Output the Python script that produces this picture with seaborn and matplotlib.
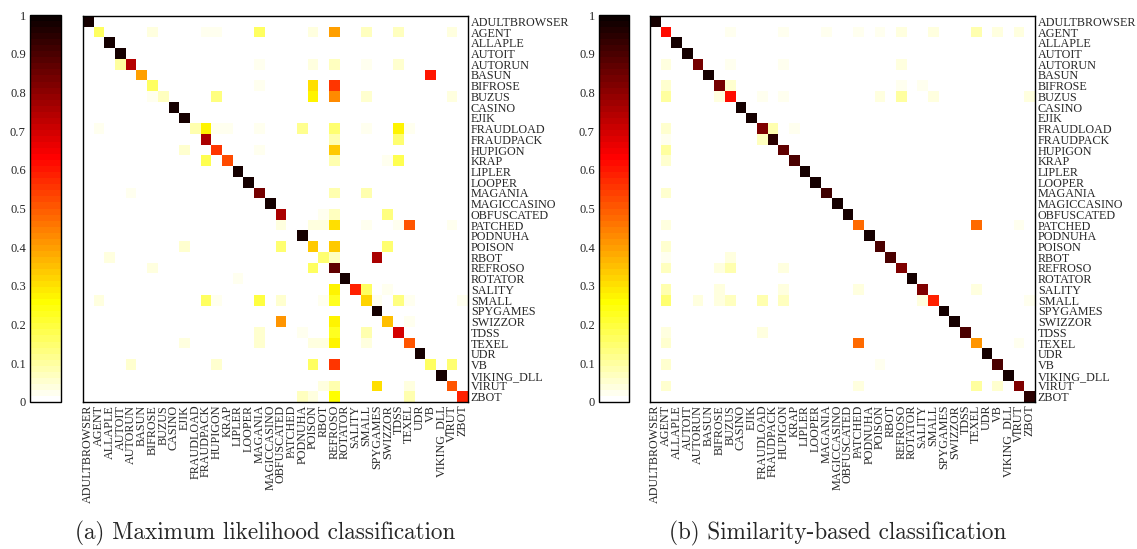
import numpy as np
import pandas as pd
import matplotlib
matplotlib.use("Agg")
import matplotlib.pyplot as plt
import seaborn as sns

categories = ["ADULTBROWSER", "AGENT", "ALLAPLE", "AUTOIT", "AUTORUN", "BASUN",
              "BIFROSE", "BUZUS", "CASINO", "EJIK", "FRAUDLOAD", "FRAUDPACK",
              "HUPIGON", "KRAP", "LIPLER", "LOOPER", "MAGANIA", "MAGICCASINO",
              "OBFUSCATED", "PATCHED", "PODNUHA", "POISON", "RBOT", "REFROSO",
              "ROTATOR", "SALITY", "SMALL", "SPYGAMES", "SWIZZOR", "TDSS",
              "TEXEL", "UDR", "VB", "VIKING_DLL", "VIRUT", "ZBOT"]

# (a) Maximum likelihood classification
ml_diagonal = [0.98, 0.16, 0.98, 0.98, 0.74, 0.40, 0.17, 0.07, 0.98, 0.98,
               0.08, 0.76, 0.55, 0.52, 0.98, 0.98, 0.83, 0.98, 0.76, 0.0,
               0.98, 0.34, 0.15, 0.86, 0.98, 0.59, 0.32, 0.98, 0.35, 0.70,
               0.50, 0.98, 0.16, 0.98, 0.50, 0.59]
ml_confusions = [
    ("AGENT", "BIFROSE", 0.04), ("AGENT", "FRAUDPACK", 0.03), ("AGENT", "HUPIGON", 0.03),
    ("AGENT", "MAGANIA", 0.17), ("AGENT", "POISON", 0.04), ("AGENT", "REFROSO", 0.40),
    ("AGENT", "SMALL", 0.07), ("AGENT", "TDSS", 0.07), ("AGENT", "VIRUT", 0.04),
    ("AUTORUN", "AUTOIT", 0.10), ("AUTORUN", "MAGANIA", 0.03), ("AUTORUN", "POISON", 0.04),
    ("AUTORUN", "REFROSO", 0.07), ("AUTORUN", "SMALL", 0.03), ("AUTORUN", "TDSS", 0.06),
    ("BASUN", "VB", 0.60),
    ("BIFROSE", "MAGANIA", 0.03), ("BIFROSE", "POISON", 0.31), ("BIFROSE", "REFROSO", 0.55),
    ("BUZUS", "BIFROSE", 0.03), ("BUZUS", "HUPIGON", 0.13), ("BUZUS", "POISON", 0.28),
    ("BUZUS", "REFROSO", 0.43), ("BUZUS", "SMALL", 0.05), ("BUZUS", "VIRUT", 0.04),
    ("FRAUDLOAD", "AGENT", 0.03), ("FRAUDLOAD", "FRAUDPACK", 0.27), ("FRAUDLOAD", "HUPIGON", 0.03),
    ("FRAUDLOAD", "KRAP", 0.03), ("FRAUDLOAD", "MAGANIA", 0.03), ("FRAUDLOAD", "PODNUHA", 0.12),
    ("FRAUDLOAD", "REFROSO", 0.15), ("FRAUDLOAD", "SMALL", 0.03), ("FRAUDLOAD", "TDSS", 0.27),
    ("FRAUDLOAD", "TEXEL", 0.03),
    ("FRAUDPACK", "REFROSO", 0.08), ("FRAUDPACK", "TDSS", 0.15),
    ("HUPIGON", "EJIK", 0.05), ("HUPIGON", "MAGANIA", 0.03), ("HUPIGON", "REFROSO", 0.33),
    ("KRAP", "FRAUDPACK", 0.18), ("KRAP", "REFROSO", 0.08), ("KRAP", "SWIZZOR", 0.03),
    ("KRAP", "TDSS", 0.18),
    ("MAGANIA", "AUTORUN", 0.03), ("MAGANIA", "REFROSO", 0.08), ("MAGANIA", "SMALL", 0.08),
    ("OBFUSCATED", "RBOT", 0.03), ("OBFUSCATED", "REFROSO", 0.07), ("OBFUSCATED", "SWIZZOR", 0.13),
    ("PATCHED", "OBFUSCATED", 0.04), ("PATCHED", "POISON", 0.04), ("PATCHED", "RBOT", 0.04),
    ("PATCHED", "REFROSO", 0.30), ("PATCHED", "SMALL", 0.03), ("PATCHED", "TDSS", 0.03),
    ("PATCHED", "TEXEL", 0.50), ("PATCHED", "VIRUT", 0.03),
    ("POISON", "EJIK", 0.05), ("POISON", "OBFUSCATED", 0.15), ("POISON", "REFROSO", 0.33),
    ("POISON", "SWIZZOR", 0.15),
    ("RBOT", "ALLAPLE", 0.04), ("RBOT", "REFROSO", 0.07), ("RBOT", "SPYGAMES", 0.76),
    ("REFROSO", "BIFROSE", 0.04), ("REFROSO", "POISON", 0.17),
    ("ROTATOR", "LIPLER", 0.03),
    ("SALITY", "REFROSO", 0.28), ("SALITY", "SMALL", 0.17), ("SALITY", "SWIZZOR", 0.03),
    ("SMALL", "AGENT", 0.04), ("SMALL", "FRAUDPACK", 0.17), ("SMALL", "HUPIGON", 0.03),
    ("SMALL", "MAGANIA", 0.20), ("SMALL", "OBFUSCATED", 0.05), ("SMALL", "RBOT", 0.03),
    ("SMALL", "REFROSO", 0.22), ("SMALL", "SPYGAMES", 0.03), ("SMALL", "TDSS", 0.13),
    ("SMALL", "TEXEL", 0.03), ("SMALL", "ZBOT", 0.03),
    ("SWIZZOR", "OBFUSCATED", 0.42), ("SWIZZOR", "REFROSO", 0.27), ("SWIZZOR", "TEXEL", 0.03),
    ("TDSS", "MAGANIA", 0.05), ("TDSS", "PODNUHA", 0.03), ("TDSS", "REFROSO", 0.23),
    ("TDSS", "SMALL", 0.08),
    ("TEXEL", "EJIK", 0.04), ("TEXEL", "MAGANIA", 0.05), ("TEXEL", "POISON", 0.04),
    ("TEXEL", "RBOT", 0.04), ("TEXEL", "REFROSO", 0.27), ("TEXEL", "SMALL", 0.04),
    ("VB", "AUTORUN", 0.05), ("VB", "HUPIGON", 0.05), ("VB", "POISON", 0.17),
    ("VB", "REFROSO", 0.56), ("VB", "VIRUT", 0.15),
    ("VIRUT", "RBOT", 0.04), ("VIRUT", "REFROSO", 0.08), ("VIRUT", "SPYGAMES", 0.30),
    ("VIRUT", "TEXEL", 0.04),
    ("ZBOT", "PODNUHA", 0.07), ("ZBOT", "POISON", 0.04), ("ZBOT", "REFROSO", 0.25),
    ("ZBOT", "TEXEL", 0.08),
]

# (b) Similarity-based classification
sim_diagonal = [0.98, 0.61, 0.98, 0.98, 0.83, 0.97, 0.83, 0.61, 0.98, 0.98,
                0.82, 0.94, 0.86, 0.90, 0.98, 0.98, 0.92, 0.98, 0.98, 0.47,
                0.98, 0.90, 0.90, 0.82, 0.98, 0.82, 0.58, 0.98, 0.98, 0.90,
                0.42, 0.98, 0.90, 0.98, 0.82, 0.94]
sim_confusions = [
    ("AGENT", "BUZUS", 0.03), ("AGENT", "HUPIGON", 0.03), ("AGENT", "MAGANIA", 0.03),
    ("AGENT", "PATCHED", 0.03), ("AGENT", "POISON", 0.03), ("AGENT", "REFROSO", 0.04),
    ("AGENT", "SMALL", 0.04), ("AGENT", "TEXEL", 0.08), ("AGENT", "VB", 0.04),
    ("AGENT", "VIRUT", 0.04),
    ("AUTORUN", "AGENT", 0.04), ("AUTORUN", "BUZUS", 0.03), ("AUTORUN", "HUPIGON", 0.03),
    ("AUTORUN", "REFROSO", 0.04),
    ("BIFROSE", "AGENT", 0.05), ("BIFROSE", "BUZUS", 0.05), ("BIFROSE", "REFROSO", 0.03),
    ("BIFROSE", "SALITY", 0.03),
    ("BUZUS", "AGENT", 0.10), ("BUZUS", "BIFROSE", 0.04), ("BUZUS", "FRAUDLOAD", 0.03),
    ("BUZUS", "HUPIGON", 0.03), ("BUZUS", "POISON", 0.04), ("BUZUS", "REFROSO", 0.10),
    ("BUZUS", "SMALL", 0.04), ("BUZUS", "ZBOT", 0.04),
    ("FRAUDLOAD", "AGENT", 0.05), ("FRAUDLOAD", "FRAUDPACK", 0.08), ("FRAUDLOAD", "KRAP", 0.03),
    ("FRAUDPACK", "AGENT", 0.03), ("FRAUDPACK", "FRAUDLOAD", 0.07),
    ("HUPIGON", "AGENT", 0.10),
    ("KRAP", "AGENT", 0.05),
    ("MAGANIA", "AGENT", 0.05),
    ("PATCHED", "AGENT", 0.04), ("PATCHED", "TEXEL", 0.47), ("PATCHED", "VIRUT", 0.03),
    ("POISON", "AGENT", 0.06),
    ("RBOT", "AGENT", 0.03), ("RBOT", "BUZUS", 0.04),
    ("REFROSO", "AGENT", 0.07), ("REFROSO", "BIFROSE", 0.04), ("REFROSO", "BUZUS", 0.08),
    ("REFROSO", "HUPIGON", 0.04),
    ("SALITY", "AGENT", 0.08), ("SALITY", "BIFROSE", 0.04), ("SALITY", "HUPIGON", 0.04),
    ("SALITY", "PATCHED", 0.04), ("SALITY", "TEXEL", 0.04),
    ("SMALL", "AGENT", 0.15), ("SMALL", "AUTORUN", 0.04), ("SMALL", "BIFROSE", 0.04),
    ("SMALL", "BUZUS", 0.07), ("SMALL", "FRAUDLOAD", 0.08), ("SMALL", "HUPIGON", 0.07),
    ("SMALL", "SALITY", 0.04), ("SMALL", "ZBOT", 0.03),
    ("TDSS", "AGENT", 0.04), ("TDSS", "FRAUDLOAD", 0.04),
    ("TEXEL", "AGENT", 0.05), ("TEXEL", "PATCHED", 0.47), ("TEXEL", "VIRUT", 0.03),
    ("VB", "AGENT", 0.05), ("VB", "POISON", 0.03),
    ("VIRUT", "AGENT", 0.05), ("VIRUT", "PATCHED", 0.04), ("VIRUT", "TEXEL", 0.10),
    ("VIRUT", "VB", 0.05),
]

colorbar_ticks = [0, 0.1, 0.2, 0.3, 0.4, 0.5, 0.6, 0.7, 0.8, 0.9, 1]
colorbar_labels = ["0", "0.1", "0.2", "0.3", "0.4", "0.5", "0.6", "0.7", "0.8", "0.9", "1"]
captions = ["(a) Maximum likelihood classification", "(b) Similarity-based classification"]


def build(diag, conf):
    m = pd.DataFrame(0.0, index=categories, columns=categories)
    for c, v in zip(categories, diag):
        m.loc[c, c] = v
    for r, c, v in conf:
        m.loc[r, c] = v
    return m


ml = build(ml_diagonal, ml_confusions)
sim = build(sim_diagonal, sim_confusions)

sns.set_style("white")
plt.rcParams["font.family"] = ["Liberation Serif", "DejaVu Serif"]

W, H = 1137, 549
fig = plt.figure(figsize=(W / 100, H / 100), dpi=100)


def fax(x0, y0, x1, y1):
    return fig.add_axes([x0 / W, 1 - y1 / H, (x1 - x0) / W, (y1 - y0) / H])


cmap = plt.get_cmap("hot_r", 64)
panels = [(ml, 30, 61, 83, 468, 265, captions[0]),
          (sim, 599, 629, 650, 1035, 838, captions[1])]

for mat, cx0, cx1, mx0, mx1, capx, cap in panels:
    cax = fax(cx0, 15, cx1, 402)
    ax = fax(mx0, 16, mx1, 402)
    sns.heatmap(mat, ax=ax, cbar_ax=cax, cmap=cmap, vmin=0, vmax=1,
                xticklabels=True, yticklabels=True)
    ax.yaxis.tick_right()
    ax.tick_params(axis="both", direction="in", length=2.5, width=0.7,
                   color="#555555", top=True, bottom=True, left=True, right=True,
                   labelleft=False, labelright=True, labeltop=False,
                   labelbottom=True, labelsize=8.7, pad=2)
    plt.setp(ax.get_xticklabels(), rotation=90)
    plt.setp(ax.get_yticklabels(), rotation=0)
    for s in ax.spines.values():
        s.set_visible(True)
        s.set_linewidth(1)
        s.set_color("black")
    ax.set_xlabel("")
    ax.set_ylabel("")
    cb = ax.collections[0].colorbar
    cb.set_ticks(colorbar_ticks)
    cb.set_ticklabels(colorbar_labels)
    cax.tick_params(direction="in", left=True, right=True, labelleft=True,
                    labelright=False, length=3, width=0.7, color="#444444",
                    labelsize=9, pad=3)
    cb.outline.set_linewidth(1)
    cb.outline.set_edgecolor("black")
    fig.text(capx / W, 1 - 533 / H, cap, ha="center", va="center",
             fontsize=16.7, family="cmr10")

fig.savefig("out.png", dpi=100)
